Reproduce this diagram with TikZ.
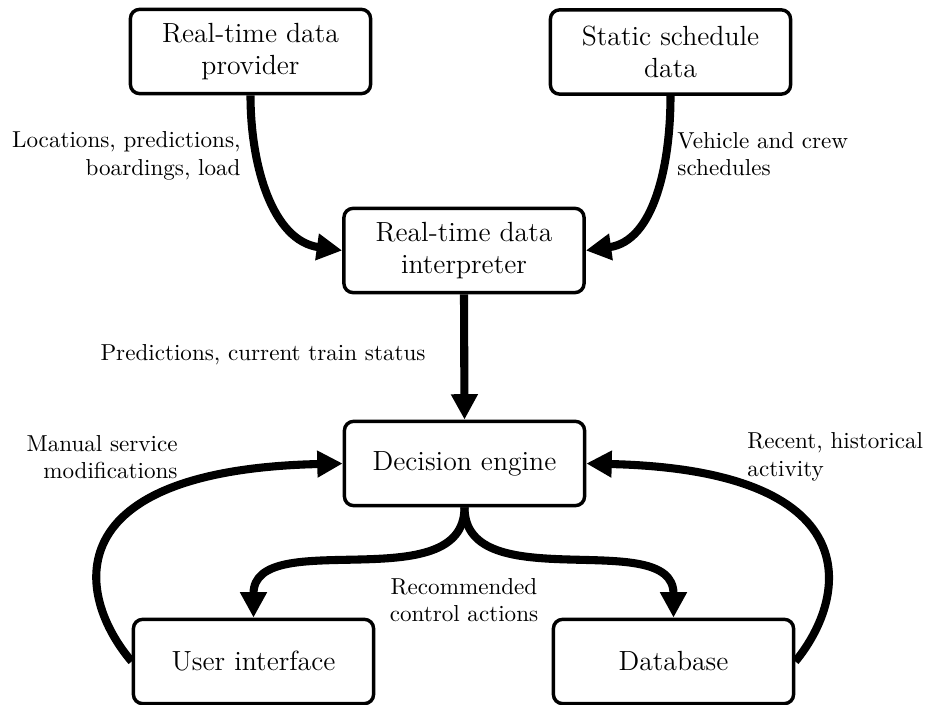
\documentclass[tikz,border=0pt]{standalone}
\usetikzlibrary{arrows.meta}
\begin{document}
\begin{tikzpicture}[x=0.433pt,y=0.433pt,
    block/.style={draw,line width=1.5pt,rounded corners=4pt,align=center,
      minimum width=104pt,minimum height=36.5pt,font=\large},
    lbl/.style={inner sep=0pt},
    flow/.style={line width=3.5pt,-{Triangle[length=11pt,width=11pt]}}]
  \useasboundingbox (0,0) rectangle (931,-705);
  \node[block] (prov) at (250.5,-51.5) {Real-time data\\provider};
  \node[block] (sched) at (670.5,-52) {Static schedule\\data};
  \node[block] (interp) at (464,-250.5) {Real-time data\\interpreter};
  \node[block] (engine) at (464.5,-463.5) {Decision engine};
  \node[block] (ui) at (253.5,-661.5) {User interface};
  \node[block] (db) at (673.5,-661.5) {Database};
  \node[lbl,anchor=east,align=right] (locs) at (241,-156) {Locations, predictions,\\boardings, load};
  \node[lbl,anchor=west,align=left] (crew) at (677,-154) {Vehicle and crew\\schedules};
  \node[lbl] (status) at (263,-355) {Predictions, current train status};
  \node[lbl,anchor=east,align=right] (manual) at (178,-457) {Manual service\\modifications};
  \node[lbl,anchor=west,align=left] (recent) at (747,-457) {Recent, historical\\activity};
  \node[lbl,align=center] (recom) at (464,-600) {Recommended\\control actions};
  \draw[flow] (prov.south) to[out=-90,in=172] (interp.west);
  \draw[flow] (sched.south) to[out=-90,in=8] (interp.east);
  \draw[flow] (interp.south) -- (engine.north);
  \draw[flow] (engine.south) to[out=-90,in=90] (ui.north);
  \draw[flow] (engine.south) to[out=-90,in=90] (db.north);
  \draw[flow] (ui.west) .. controls (75,-595) and (55,-470) .. (engine.west);
  \draw[flow] (db.east) .. controls (850,-595) and (868,-470) .. (engine.east);
\end{tikzpicture}
\end{document}
